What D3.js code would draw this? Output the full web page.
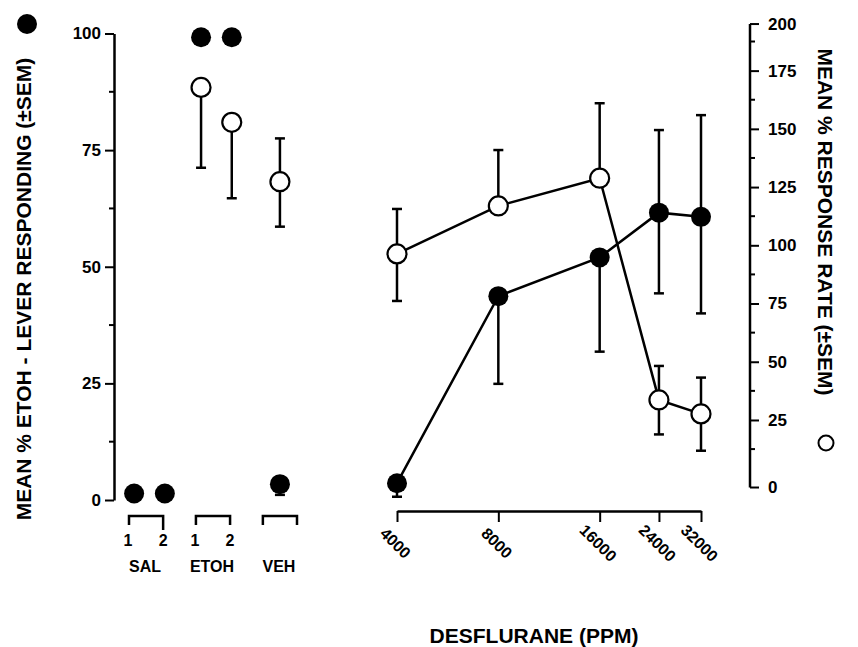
<!DOCTYPE html>
<html><head><meta charset="utf-8">
<script src="https://cdn.jsdelivr.net/npm/d3@7"></script>
<style>
body{margin:0;background:#fff;}
svg{display:block;}
text{font-family:"Liberation Sans",Arial,Helvetica,sans-serif;font-weight:bold;fill:#000;}
</style></head>
<body><svg id="c" width="858" height="647"></svg>
<script>
// ---- data ----
const leftGroups = ["SAL", "ETOH", "VEH"];
const leftCatGroup = ["SAL", "SAL", "ETOH", "ETOH", "VEH"];
const leftCatSub = ["1", "2", "1", "2", ""];
const leftFilled = [1.4, 1.4, 99.2, 99.2, 3.4];
const leftFilledLo = [null, null, null, null, 1.1];
const leftOpen = [null, null, 167.8, 152.8, 127.3];
const leftOpenHi = [null, null, null, null, 145.9];
const leftOpenLo = [null, null, 133.3, 120.2, 108.0];

const doses = [4000, 8000, 16000, 24000, 32000];
const doseFilled = [3.6, 43.7, 52.0, 61.6, 60.7];
const doseFilledHi = [null, null, null, 79.3, 82.5];
const doseFilledLo = [0.7, 24.9, 31.8, 44.3, 40.0];
const doseOpen = [96.3, 116.9, 128.8, 33.6, 27.6];
const doseOpenHi = [115.6, 140.9, 161.0, 48.2, 43.2];
const doseOpenLo = [76.1, null, null, 18.8, 11.8];

const leftTicks = [0, 25, 50, 75, 100];
const leftMinor = [12.5, 37.5, 62.5, 87.5];
const rightTicks = [25, 50, 75, 100, 125, 150, 175];
const rightMinor = [12.5, 37.5, 62.5, 87.5, 112.5, 137.5, 162.5, 187.5];
const rightEnds = [{v: 195, label: "200"}, {v: -4, label: "0"}];
const doseTicks = [4000, 8000, 16000, 24000, 32000];

const leftTitle = "MEAN % ETOH - LEVER RESPONDING (\u00B1SEM)";
const rightTitle = "MEAN % RESPONSE RATE (\u00B1SEM)";
const xTitle = "DESFLURANE (PPM)";

// ---- scales ----
const svg = d3.select("#c");
const yL = d3.scaleLinear().domain([0, 100]).range([500, 33.5]);
const yR = d3.scaleLinear().domain([0, 200]).range([478.2, 12.4]);
const xD = d3.scaleLog().domain([4000, 32000]).range([397, 701]);
const gBand = d3.scaleBand().domain(leftGroups).range([129, 297]).paddingInner(0.49).paddingOuter(0);
const bw = gBand.bandwidth();
const inner = d3.scalePoint().domain(["1", "2"]).range([bw * 0.15, bw * 1.05]);
const xLeft = i => gBand(leftCatGroup[i]) + (leftCatSub[i] ? inner(leftCatSub[i]) : bw / 2);

const SW = 2.5;
const FONT = "'Liberation Sans',Arial,sans-serif";
// ---- left axis ----
const axL = svg.append("g").attr("transform", "translate(114,0)");
axL.call(d3.axisLeft(yL).tickValues(leftTicks).tickSize(9).tickSizeOuter(0).tickPadding(4).tickFormat(d3.format("d")));
axL.selectAll("path").attr("stroke-width", SW);
axL.selectAll(".tick line").attr("stroke-width", 2);
axL.selectAll(".tick text").style("font-size", "17px").style("font-family", FONT).style("font-weight", "bold");
axL.selectAll(".minor").data(leftMinor).join("line").attr("class", "minor")
  .attr("x1", -5).attr("x2", 0).attr("y1", d => yL(d)).attr("y2", d => yL(d)).attr("stroke", "#000").attr("stroke-width", 2);

// ---- right axis ----
const axR = svg.append("g").attr("transform", "translate(750,0)");
axR.append("line").attr("x1", 0).attr("x2", 0).attr("y1", yR(rightEnds[0].v)).attr("y2", yR(rightEnds[1].v))
  .attr("stroke", "#000").attr("stroke-width", SW);
axR.call(g => {
  const a = g.append("g");
  a.call(d3.axisRight(yR).tickValues(rightTicks).tickSize(9).tickPadding(9).tickFormat(d3.format("d")));
  a.select(".domain").remove();
  a.selectAll(".tick line").attr("stroke-width", 2);
  a.selectAll(".tick text").style("font-size", "17px").style("font-family", FONT).style("font-weight", "bold");
});
axR.selectAll(".minor").data(rightMinor).join("line").attr("class", "minor")
  .attr("x1", 0).attr("x2", 5).attr("y1", d => yR(d)).attr("y2", d => yR(d)).attr("stroke", "#000").attr("stroke-width", 2);
const ends = axR.selectAll(".endt").data(rightEnds).join("g").attr("class", "endt")
  .attr("transform", d => `translate(0,${yR(d.v)})`);
ends.append("line").attr("x1", 0).attr("x2", 9).attr("stroke", "#000").attr("stroke-width", 2);
ends.append("text").attr("x", 18).attr("dy", "0.35em").style("font-size", "17px").text(d => d.label);

// ---- dose axis ----
const axX = svg.append("g").attr("transform", "translate(0,511)");
axX.call(d3.axisBottom(xD).tickValues(doseTicks).tickSize(11).tickSizeOuter(0).tickFormat(d3.format("d")));
axX.select(".domain").attr("stroke-width", SW);
axX.selectAll(".tick line").attr("stroke-width", 2);
axX.selectAll(".tick text").attr("y", 0).attr("dy", "0.35em").attr("text-anchor", "middle")
  .attr("transform", "translate(-2,32) rotate(45)")
  .style("font-size", "16px").style("font-family", FONT).style("font-weight", "bold");

// ---- brackets for left categories ----
const br = svg.append("g");
leftGroups.forEach((g, gi) => {
  const x0 = gBand(g), x1 = gBand(g) + bw;
  const yTop = 516, yBot = 525;
  br.append("path").attr("d", `M${x0},${yBot}V${yTop}H${x1}V${g === "SAL" ? yBot + 5 : yBot}`)
    .attr("fill", "none").attr("stroke", "#000").attr("stroke-width", SW);
  br.append("text").attr("x", (x0 + x1) / 2 - 1).attr("y", 572).attr("text-anchor", "middle").style("font-size", "16px").text(g);
});
leftCatSub.forEach((s, i) => {
  if (!s) return;
  const x = gBand(leftCatGroup[i]) + (s === "1" ? -1 : bw);
  br.append("text").attr("x", x).attr("y", 546).attr("text-anchor", "middle").style("font-size", "16px").text(s);
});

// ---- error bars ----
const eb = svg.append("g").attr("stroke", "#000").attr("stroke-width", SW).attr("fill", "none");
function errBar(x, y0, y1) {
  eb.append("line").attr("x1", x).attr("x2", x).attr("y1", y0).attr("y2", y1);
  eb.append("line").attr("x1", x - 5).attr("x2", x + 5).attr("y1", y1).attr("y2", y1);
}
leftFilled.forEach((v, i) => {
  if (leftFilledLo[i] != null) errBar(xLeft(i), yL(v), yL(leftFilledLo[i]));
});
leftOpen.forEach((v, i) => {
  if (v == null) return;
  if (leftOpenHi[i] != null) errBar(xLeft(i), yR(v), yR(leftOpenHi[i]));
  if (leftOpenLo[i] != null) errBar(xLeft(i), yR(v), yR(leftOpenLo[i]));
});
doses.forEach((d, i) => {
  if (doseFilledHi[i] != null) errBar(xD(d), yL(doseFilled[i]), yL(doseFilledHi[i]));
  if (doseFilledLo[i] != null) errBar(xD(d), yL(doseFilled[i]), yL(doseFilledLo[i]));
  if (doseOpenHi[i] != null) errBar(xD(d), yR(doseOpen[i]), yR(doseOpenHi[i]));
  if (doseOpenLo[i] != null) errBar(xD(d), yR(doseOpen[i]), yR(doseOpenLo[i]));
});

// ---- lines ----
const lineOpen = d3.line().x((d, i) => xD(doses[i])).y(d => yR(d));
const lineFilled = d3.line().x((d, i) => xD(doses[i])).y(d => yL(d));
svg.append("path").attr("d", lineOpen(doseOpen)).attr("fill", "none").attr("stroke", "#000").attr("stroke-width", SW);
svg.append("path").attr("d", lineFilled(doseFilled)).attr("fill", "none").attr("stroke", "#000").attr("stroke-width", SW);

// ---- points ----
const pts = svg.append("g");
pts.selectAll(".lf").data(leftFilled).join("circle").attr("class", "lf")
  .attr("cx", (d, i) => xLeft(i)).attr("cy", d => yL(d)).attr("r", 10).attr("fill", "#000");
pts.selectAll(".lo").data(leftOpen.map((v, i) => ({v, i})).filter(d => d.v != null)).join("circle").attr("class", "lo")
  .attr("cx", d => xLeft(d.i)).attr("cy", d => yR(d.v)).attr("r", 9.5).attr("fill", "#fff").attr("stroke", "#000").attr("stroke-width", 2.2);
pts.selectAll(".do").data(doseOpen).join("circle").attr("class", "do")
  .attr("cx", (d, i) => xD(doses[i])).attr("cy", d => yR(d)).attr("r", 9.5).attr("fill", "#fff").attr("stroke", "#000").attr("stroke-width", 2.2);
pts.selectAll(".df").data(doseFilled).join("circle").attr("class", "df")
  .attr("cx", (d, i) => xD(doses[i])).attr("cy", d => yL(d)).attr("r", 10).attr("fill", "#000");

// ---- titles ----
svg.append("text").attr("transform", "translate(31,289) rotate(-90)").attr("text-anchor", "middle")
  .style("font-size", "21px").text(leftTitle);
svg.append("circle").attr("cx", 27).attr("cy", 24).attr("r", 10).attr("fill", "#000");
svg.append("text").attr("transform", "translate(818,222) rotate(90)").attr("text-anchor", "middle")
  .style("font-size", "21px").text(rightTitle);
svg.append("circle").attr("cx", 826).attr("cy", 443).attr("r", 7.5).attr("fill", "#fff").attr("stroke", "#000").attr("stroke-width", 2);
svg.append("text").attr("x", 534).attr("y", 643).attr("text-anchor", "middle").style("font-size", "21px").text(xTitle);
</script></body></html>
